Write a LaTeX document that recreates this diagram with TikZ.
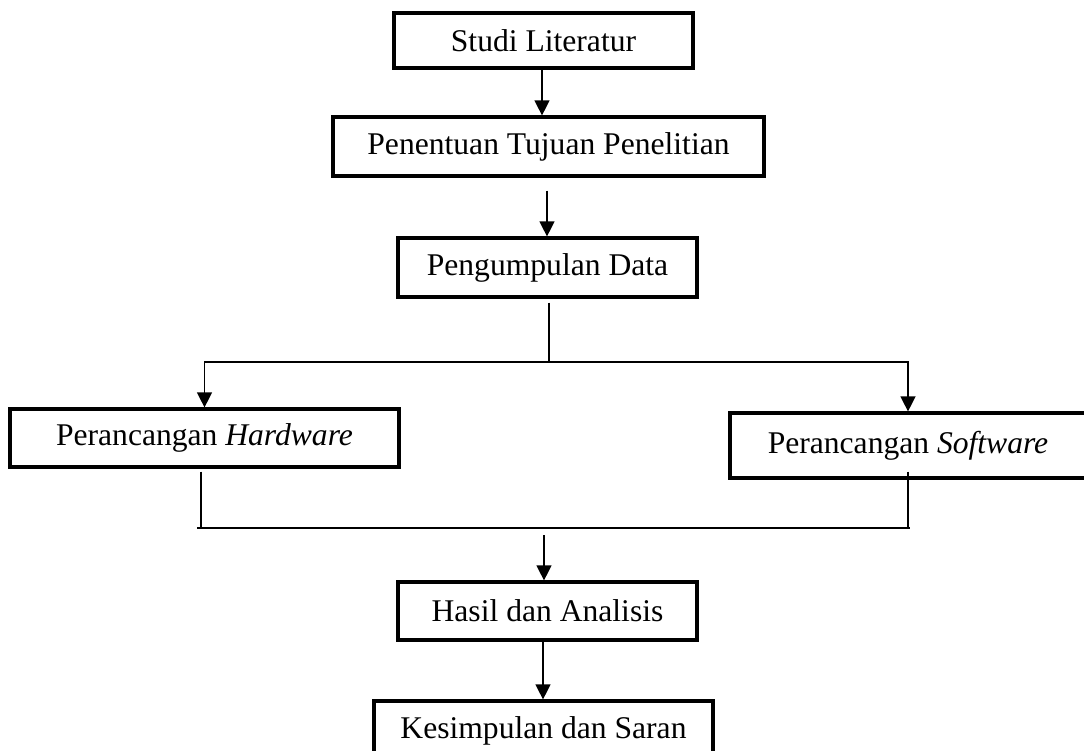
\documentclass[tikz,border=0pt]{standalone}
\usepackage{fontspec}
\setmainfont{Liberation Serif}
\usetikzlibrary{arrows.meta}
\begin{document}
\begin{tikzpicture}[x=1pt,y=-1pt,
  box/.style={draw,line width=3.2pt,inner sep=0pt,font=\fontsize{31.6}{36}\selectfont},
  conn/.style={line width=1.3pt},
  arr/.style={conn,-{Triangle[length=15pt,width=15pt]}}]
\useasboundingbox (0,0) rectangle (1084,751);
\clip (0,0) rectangle (1084,751);
\node[box,minimum width=299pt,minimum height=55pt] (studi) at (543.5,40.5) {Studi Literatur};
\node[box,minimum width=431pt,minimum height=59pt] (tujuan) at (548.5,146.5) {Penentuan Tujuan Penelitian};
\node[box,minimum width=299pt,minimum height=59pt] (data) at (547.5,267.5) {Pengumpulan Data};
\node[box,minimum width=389pt,minimum height=58pt] (hw) at (204.5,438) {Perancangan \textit{Hardware}};
\node[box,minimum width=356pt,minimum height=65pt] (sw) at (908,445.5) {Perancangan \textit{Software}};
\node[box,minimum width=299pt,minimum height=58pt] (hasil) at (547.5,611) {Hasil dan Analisis};
\node[box,minimum width=339pt,minimum height=60pt] (kes) at (543.5,731) {Kesimpulan dan Saran};
\coordinate (split) at (549,362);
\coordinate (merge) at (544,528);
% top arrows
\draw[arr] ([xshift=-1.5pt]studi.south) -- ([xshift=-1.5pt]studi.south |- tujuan.north);
\draw[arr] ([xshift=-1.5pt,yshift=-13pt]tujuan.south) -- ([xshift=-1.5pt]tujuan.south |- data.north);
% split
\draw[conn] ([xshift=1.5pt,yshift=-4pt]data.south) -- (split);
\draw[arr] (split) -| (hw.north);
\draw[arr] (split) -| (sw.north);
% merge
\draw[conn] ([xshift=-3.5pt,yshift=-3pt]hw.south) -- ([xshift=-3.5pt]hw.south |- merge);
\draw[conn] ([yshift=8pt]sw.south) -- (sw.south |- merge);
\draw[conn] ([xshift=-7.5pt]hw.south |- merge) -- ([xshift=2pt]sw.south |- merge);
\draw[arr] ([yshift=-7pt]merge) -- (merge |- hasil.north);
\draw[arr] ([xshift=-4.5pt]hasil.south) -- ([xshift=-4.5pt]hasil.south |- kes.north);
\end{tikzpicture}
\end{document}
